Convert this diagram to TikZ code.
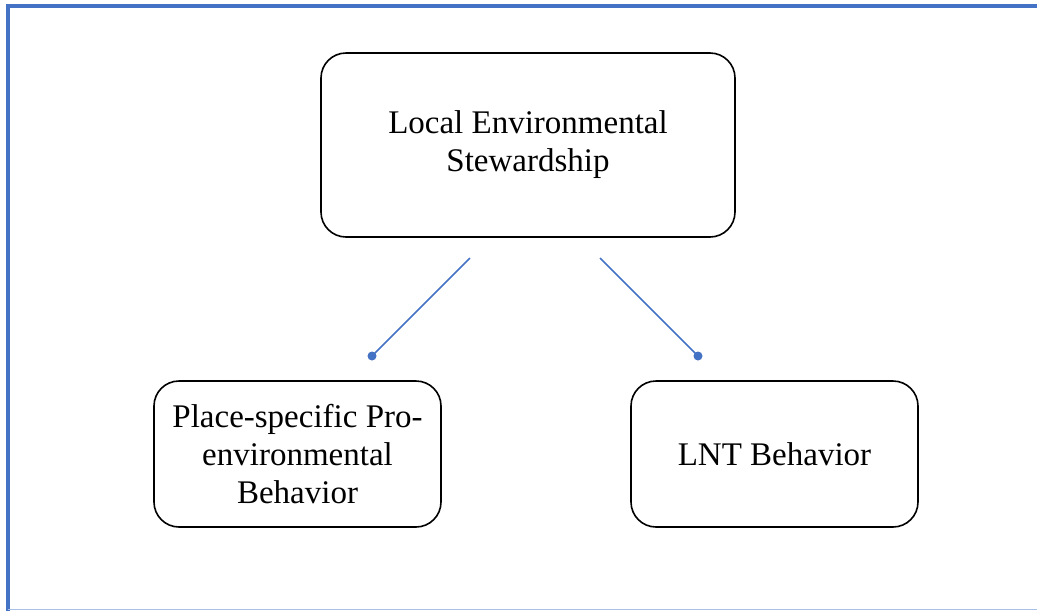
\documentclass[tikz,border=0pt]{standalone}
\usepackage{fontspec}
\setmainfont{Liberation Serif}
\definecolor{frameblue}{HTML}{4472C4}
\definecolor{lightblue}{HTML}{A9C0E8}
\begin{document}
\begin{tikzpicture}[x=1pt,y=-1pt,
  box/.style={draw,line width=1.6pt,rounded corners=25pt,align=center,
    font=\fontsize{33}{38}\selectfont,inner sep=0pt},
  dot/.style={circle,fill=frameblue,inner sep=0pt,minimum size=9pt},
  link/.style={frameblue,line width=1.5pt}]
  \useasboundingbox (0,0) rectangle (1037,611);
  \draw[frameblue,line width=3.5pt] (8,611) -- (8,6) -- (1037,6);
  \draw[lightblue,line width=1.5pt] (8,609.5) -- (1037,609.5);
  \node[box,minimum width=414pt,minimum height=184pt] (les) at (528,145) {Local Environmental\\Stewardship};
  \node[box,minimum width=287pt,minimum height=146pt] (ppb) at (297.5,454) {Place-specific Pro-\\environmental\\Behavior};
  \node[box,minimum width=287pt,minimum height=146pt] (lnt) at (774.5,454) {LNT Behavior};
  \coordinate (l1) at (470,258); \coordinate (r1) at (600,258);
  \node[dot] (l2) at (372,356) {}; \node[dot] (r2) at (698,356) {};
  \draw[link] (l1) -- (l2.center);
  \draw[link] (r1) -- (r2.center);
\end{tikzpicture}
\end{document}
